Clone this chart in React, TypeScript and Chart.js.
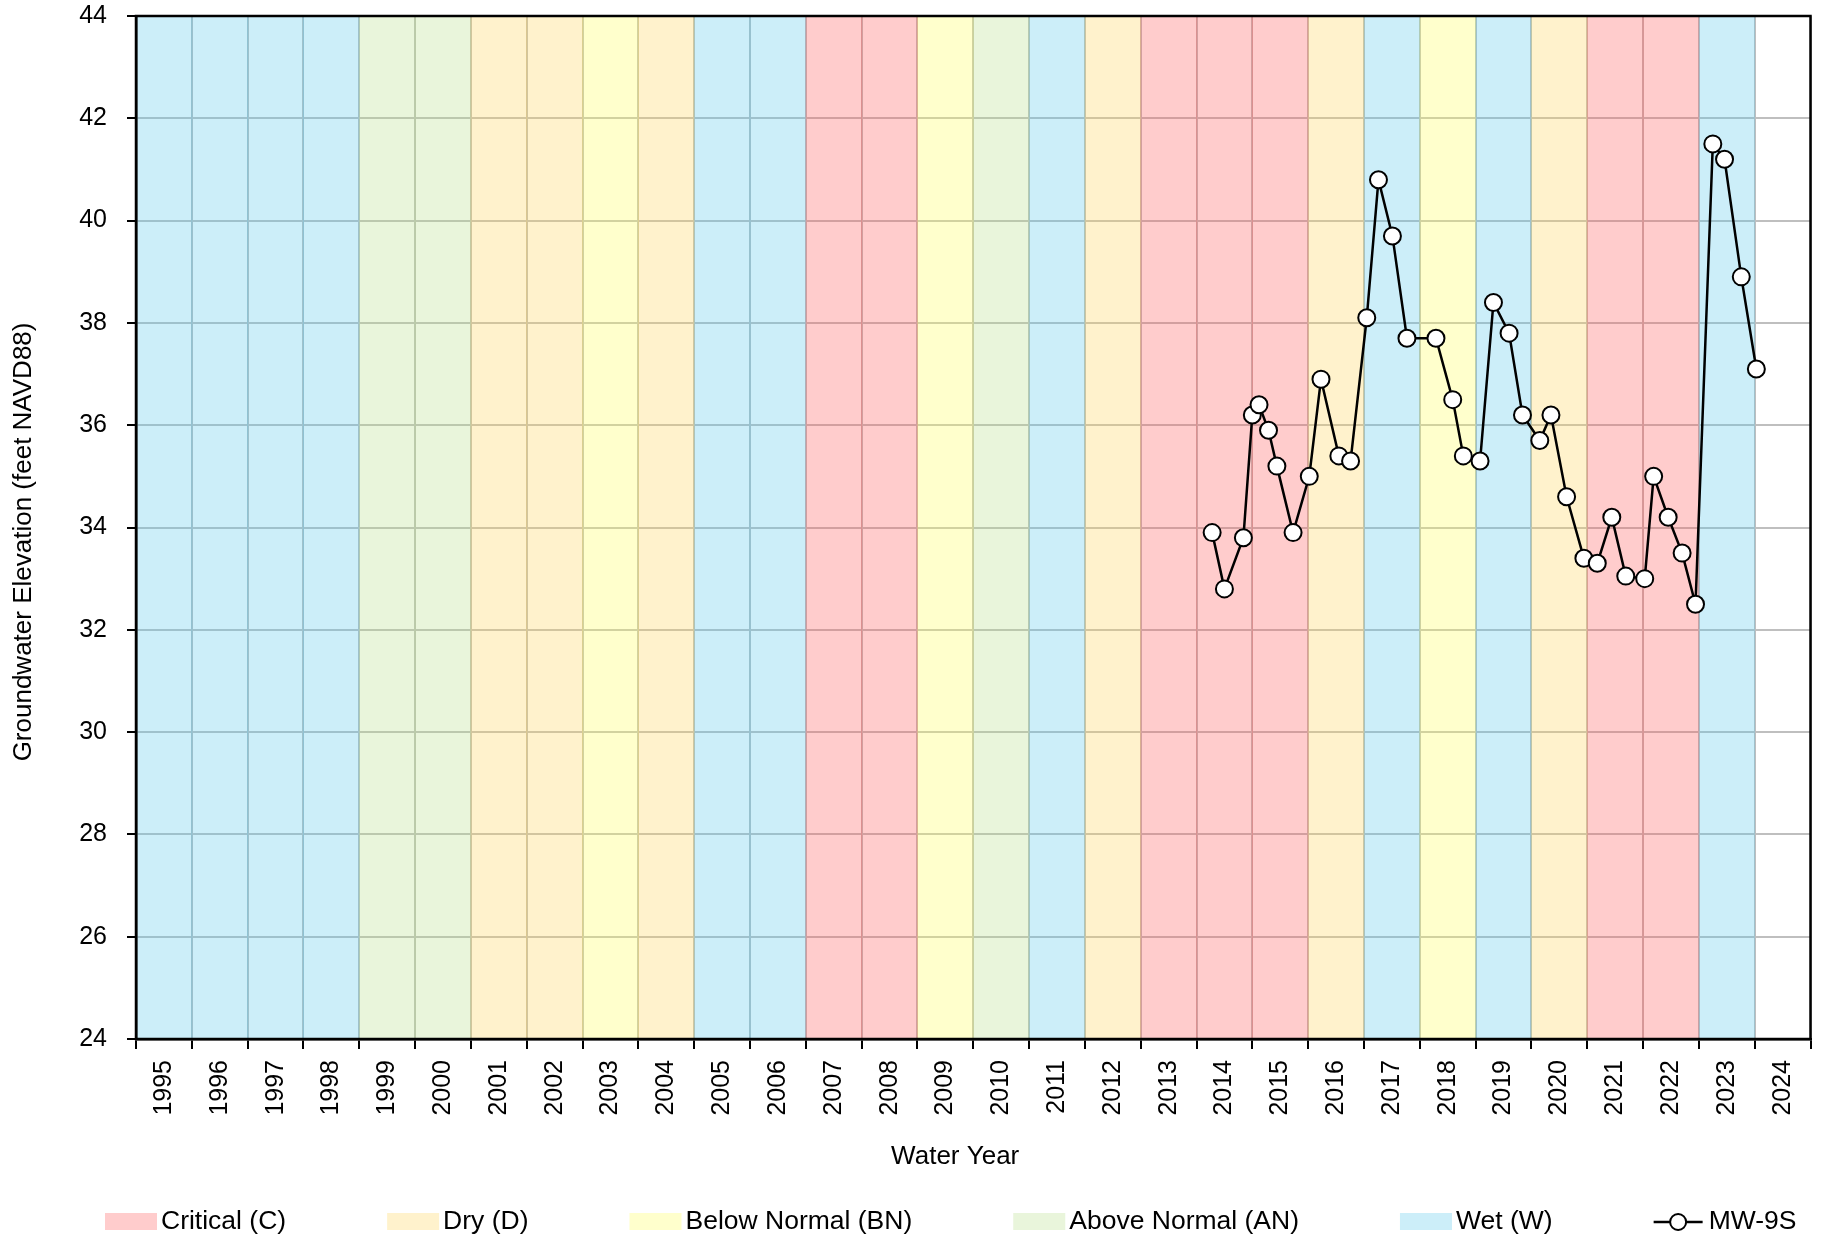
import React, { useEffect, useRef } from 'react';
import { Chart, registerables } from 'chart.js';

Chart.register(...registerables);

// ---------- data ----------
const waterYears = [
  1995, 1996, 1997, 1998, 1999, 2000, 2001, 2002, 2003, 2004,
  2005, 2006, 2007, 2008, 2009, 2010, 2011, 2012, 2013, 2014,
  2015, 2016, 2017, 2018, 2019, 2020, 2021, 2022, 2023, 2024,
];
const yearTypes = [
  'W', 'W', 'W', 'W', 'AN', 'AN', 'D', 'D', 'BN', 'D',
  'W', 'W', 'C', 'C', 'BN', 'AN', 'W', 'D', 'C', 'C',
  'C', 'D', 'W', 'BN', 'W', 'D', 'C', 'C', 'W', '',
];
const typeKeys = ['C', 'D', 'BN', 'AN', 'W'];
const typeLabels = ['Critical (C)', 'Dry (D)', 'Below Normal (BN)', 'Above Normal (AN)', 'Wet (W)'];

const seriesName = 'MW-9S';
// sample position expressed as decimal water-year (band N spans [N, N+1])
const sampleX = [
  2014.28, 2014.5, 2014.84, 2015.0, 2015.12, 2015.29, 2015.44, 2015.73,
  2016.02, 2016.23, 2016.55, 2016.76, 2017.05, 2017.26, 2017.51, 2017.77,
  2018.29, 2018.59, 2018.78, 2019.08, 2019.32, 2019.6, 2019.84, 2020.15,
  2020.35, 2020.63, 2020.94, 2021.18, 2021.44, 2021.69, 2022.03, 2022.19,
  2022.45, 2022.7, 2022.94, 2023.25, 2023.46, 2023.76, 2024.03,
];
const elevations = [
  33.9, 32.8, 33.8, 36.2, 36.4, 35.9, 35.2, 33.9,
  35.0, 36.9, 35.4, 35.3, 38.1, 40.8, 39.7, 37.7,
  37.7, 36.5, 35.4, 35.3, 38.4, 37.8, 36.2, 35.7,
  36.2, 34.6, 33.4, 33.3, 34.2, 33.05, 33.0, 35.0,
  34.2, 33.5, 32.5, 41.5, 41.2, 38.9, 37.1,
];

const yMin = 24;
const yMax = 44;
const yStep = 2;
const xMin = 1995;
const xMax = 2025;

const xTitle = 'Water Year';
const yTitle = 'Groundwater Elevation (feet NAVD88)';

// ---------- styles ----------
const FONT = '"Liberation Sans", Arial, sans-serif';
const typeFill: Record<string, string> = {
  C: 'rgba(255,85,85,0.3)',
  D: 'rgba(255,212,85,0.3)',
  BN: 'rgba(255,255,85,0.3)',
  AN: 'rgba(182,222,135,0.3)',
  W: 'rgba(85,198,235,0.3)',
};

const framePlugin = {
  id: 'frame',
  afterDraw(chart: any) {
    const { ctx, chartArea: a } = chart;
    ctx.save();
    ctx.strokeStyle = '#000';
    ctx.lineWidth = 2.5;
    ctx.strokeRect(a.left, a.top, a.right - a.left, a.bottom - a.top);
    ctx.restore();
  },
};

const legendPlugin = {
  id: 'wyLegend',
  afterDraw(chart: any) {
    const ctx = chart.ctx as CanvasRenderingContext2D;
    ctx.save();
    ctx.font = `26.5px ${FONT}`;
    ctx.textBaseline = 'middle';
    ctx.textAlign = 'left';
    const yc = 1222;
    let x = 105;
    chart.data.datasets.forEach((ds: any) => {
      if (ds.type === 'bar') {
        ctx.fillStyle = ds.backgroundColor;
        ctx.fillRect(x, yc - 9, 52, 17);
        ctx.fillStyle = '#000';
        ctx.fillText(ds.label, x + 56, yc);
        x += 56 + ctx.measureText(ds.label).width + 101;
      } else {
        const lx = x;
        ctx.strokeStyle = '#000';
        ctx.lineWidth = 2.5;
        ctx.beginPath();
        ctx.moveTo(lx, yc);
        ctx.lineTo(lx + 49, yc);
        ctx.stroke();
        ctx.beginPath();
        ctx.arc(lx + 24.5, yc, 8, 0, Math.PI * 2);
        ctx.fillStyle = '#fff';
        ctx.fill();
        ctx.lineWidth = 2;
        ctx.stroke();
        ctx.fillStyle = '#000';
        ctx.fillText(ds.label, lx + 55, yc);
      }
    });
    ctx.restore();
  },
};

export default function App() {
  const ref = useRef<HTMLCanvasElement>(null);

  useEffect(() => {
    document.body.style.margin = '0';
    const bandDatasets = typeKeys.map((k, ti) => ({
      type: 'bar' as const,
      label: typeLabels[ti],
      data: waterYears
        .filter((_, i) => yearTypes[i] === k)
        .map((yr) => ({ x: yr + 0.5, y: yMax })),
      backgroundColor: typeFill[k],
      borderWidth: 0,
      grouped: false,
      barPercentage: 1,
      categoryPercentage: 1,
      base: yMin,
      order: 1,
    }));

    const lineDataset = {
      type: 'line' as const,
      label: seriesName,
      data: sampleX.map((x, i) => ({ x, y: elevations[i] })),
      borderColor: '#000',
      borderWidth: 2.5,
      pointRadius: 8.5,
      pointBackgroundColor: '#fff',
      pointBorderColor: '#000',
      pointBorderWidth: 2,
      tension: 0,
      clip: false,
      order: 0,
    };

    const chart = new Chart(ref.current!, {
      type: 'line',
      data: { datasets: [...bandDatasets, lineDataset] as any },
      plugins: [framePlugin, legendPlugin],
      options: {
        responsive: false,
        animation: false,
        devicePixelRatio: 1,
        layout: { padding: { top: 16, right: 8, bottom: 47, left: 0 } },
        plugins: {
          legend: { display: false },
          tooltip: { enabled: false },
        },
        scales: {
          x: {
            type: 'linear',
            min: xMin,
            max: xMax,
            offset: false,
            afterFit(scale: any) {
              scale.height = 150;
              scale.paddingLeft = 0;
              scale.paddingRight = 0;
            },
            ticks: {
              stepSize: 1,
              autoSkip: false,
              maxRotation: 90,
              minRotation: 90,
              labelOffset: 28,
              padding: 11,
              color: '#000',
              font: { family: FONT, size: 25 },
              callback: (v: any) => {
                const idx = waterYears.indexOf(Number(v));
                return idx >= 0 ? String(waterYears[idx]) : '';
              },
            },
            grid: {
              color: 'rgb(191,191,191)',
              lineWidth: 2,
              tickColor: '#000',
              tickWidth: 2,
              tickLength: 10,
              offset: false,
            },
            border: { color: '#000', width: 2.5, z: 1 },
            title: {
              display: true,
              // trailing spaces nudge the centred title left, as in the source
              text: xTitle + '     ',
              color: '#000',
              font: { family: FONT, size: 26 },
              padding: { top: 0, bottom: 17 },
            },
          },
          y: {
            type: 'linear',
            min: yMin,
            max: yMax,
            afterFit(scale: any) {
              scale.width = 136;
              scale.paddingTop = 0;
              scale.paddingBottom = 0;
            },
            ticks: {
              stepSize: yStep,
              padding: 20,
              color: '#000',
              font: { family: FONT, size: 25 },
            },
            grid: {
              color: 'rgb(191,191,191)',
              lineWidth: 2,
              tickColor: '#000',
              tickWidth: 2,
              tickLength: 9,
            },
            border: { color: '#000', width: 2.5, z: 1 },
            title: {
              display: true,
              // trailing spaces nudge the centred title downward, as in the source
              text: yTitle + '    ',
              color: '#000',
              font: { family: FONT, size: 26 },
              padding: { top: 8, bottom: 0 },
            },
          },
        },
      } as any,
    });
    return () => chart.destroy();
  }, []);

  return (
    <canvas
      ref={ref}
      width={1821}
      height={1236}
      style={{ display: 'block', width: 1821, height: 1236 }}
    />
  );
}
